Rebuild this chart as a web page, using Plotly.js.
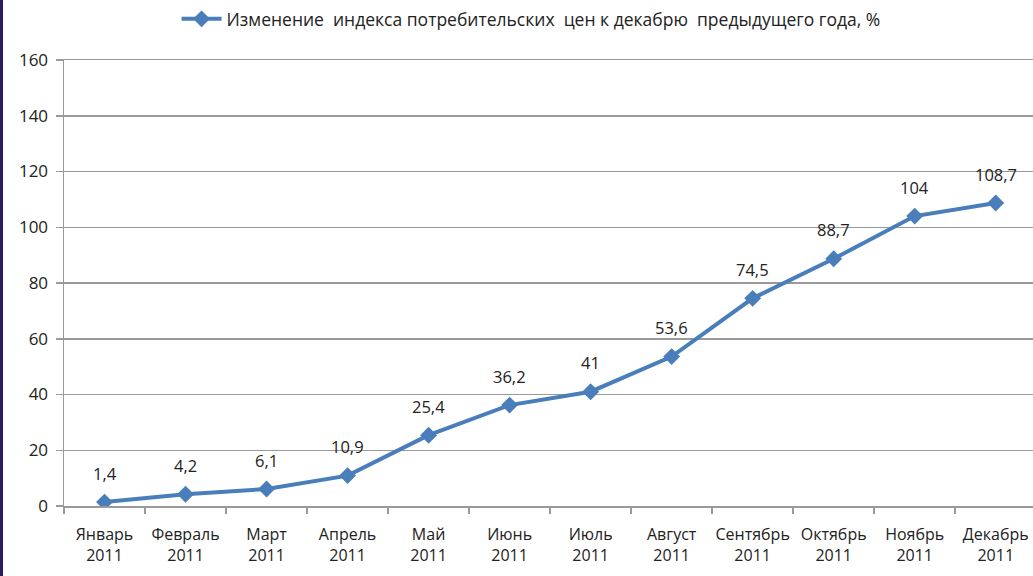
<!DOCTYPE html>
<html><head><meta charset="utf-8">
<script src="https://cdn.plot.ly/plotly-3.0.1.min.js"></script>
<style>
html,body{margin:0;padding:0;background:#fff;}
#chart{width:1033px;height:576px;}
#strip{position:absolute;left:0;top:0;width:3px;height:576px;background:#2b1b63;z-index:10;}
</style></head>
<body>
<div id="strip"></div>
<div id="chart"></div>
<script>
const months = ["Январь","Февраль","Март","Апрель","Май","Июнь","Июль","Август","Сентябрь","Октябрь","Ноябрь","Декабрь"];
const year = "2011";
const values = [1.4, 4.2, 6.1, 10.9, 25.4, 36.2, 41, 53.6, 74.5, 88.7, 104, 108.7];
const seriesName = "Изменение  индекса потребительских  цен к декабрю  предыдущего года, %";
const yTicks = [0, 20, 40, 60, 80, 100, 120, 140, 160];

const cats = months.map(m => m + "<br>" + year);
const fontFam = "'Open Sans', 'Noto Sans', sans-serif";
const lineColor = "#4a7ebb";
const gridCol = "#9a9a9a";

const trace = {
  type: "scatter", mode: "lines+markers",
  x: cats, y: values, name: seriesName,
  line: {color: lineColor, width: 4},
  marker: {symbol: "diamond", size: 13, color: lineColor},
  hoverinfo: "skip"
};

const annotations = values.map((v, i) => ({
  x: cats[i], y: v, xref: "x", yref: "y",
  text: String(v).replace(".", ","),
  showarrow: false, yshift: 29,
  font: {family: fontFam, size: 16.5, color: "#222"}
}));

const layout = {
  width: 1033, height: 576,
  margin: {l: 64, r: 0, t: 60, b: 70, autoexpand: false},
  paper_bgcolor: "#fff", plot_bgcolor: "#fff",
  showlegend: true,
  legend: {orientation: "h", x: 0.482, xanchor: "center", y: 1.092, yanchor: "middle",
    font: {family: fontFam, size: 17.5, color: "#222"}, itemwidth: 40},
  xaxis: {
    type: "category", range: [-0.5, 11.46],
    tickson: "boundaries", ticks: "outside", ticklen: 6, tickcolor: gridCol, tickwidth: 1.5,
    showline: true, linecolor: gridCol, linewidth: 1.5, mirror: true,
    showgrid: false, zeroline: false,
    tickangle: 0,
    ticklabelstandoff: 13,
    tickfont: {family: fontFam, size: 16, color: "#222"}
  },
  yaxis: {
    range: [0, 160], tickvals: yTicks, ticktext: yTicks.map(String),
    showline: true, linecolor: gridCol, linewidth: 1.5,
    ticks: "outside", ticklen: 7, tickcolor: gridCol, tickwidth: 1.5,
    showgrid: true, gridcolor: gridCol, gridwidth: 1.5,
    zeroline: true, zerolinecolor: gridCol, zerolinewidth: 1.5,
    ticklabelstandoff: 4,
    tickfont: {family: fontFam, size: 17, color: "#222"}
  },
  annotations: annotations
};

Plotly.newPlot("chart", [trace], layout, {displayModeBar: false, staticPlot: true});
</script>
</body></html>
